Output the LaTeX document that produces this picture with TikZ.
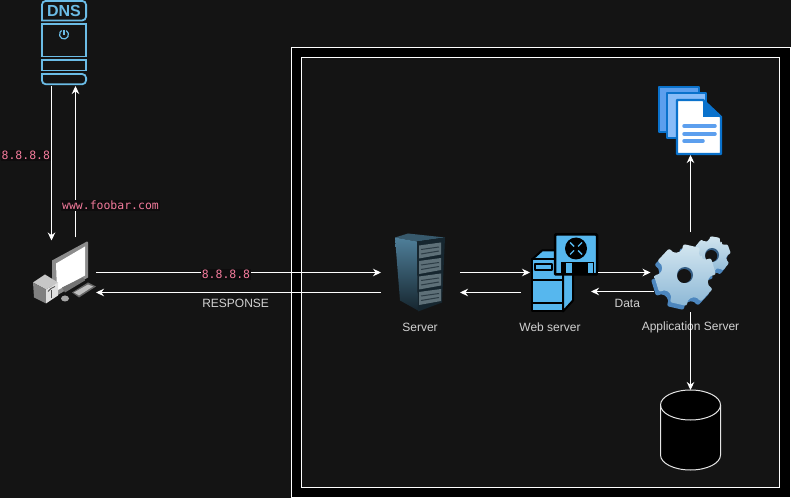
\documentclass[tikz,border=0pt]{standalone}
\usepackage{fontspec}
\setsansfont{Liberation Sans}
\newfontfamily\codefont{DejaVu Sans Mono}
\usetikzlibrary{calc, positioning}
\usetikzlibrary{arrows.meta}
\definecolor{canvas}{HTML}{141414}
\definecolor{dnsblue}{HTML}{6BBCE6}
\definecolor{webblue}{HTML}{56B7EE}
\definecolor{pinktext}{HTML}{F27A9B}
\definecolor{codeback}{HTML}{0E0C0D}
\definecolor{gearside}{HTML}{4C86BE}
\definecolor{gearlight}{HTML}{D3E6F0}
\definecolor{geardark}{HTML}{8DB8D6}
\definecolor{docline}{HTML}{0A72CC}
\definecolor{docfill}{HTML}{5C9FEE}
\definecolor{docpale}{HTML}{88BCF8}
\definecolor{rackdark}{HTML}{16262F}
\definecolor{racklight}{HTML}{4F7F9A}
\definecolor{rackpanel}{HTML}{5E7078}
\def\px{0.75pt}
\tikzset{
    frame/.style = {
        rectangle, inner sep=0pt, outer sep=0pt
    },
    flow/.style = {
        draw=white, line width=1*\px, -{Stealth[length=8*\px, width=7.5*\px]}
    },
    caption/.style = {
        font=\sffamily\fontsize{9}{11}\selectfont, text=white!82!black, inner sep=0pt
    },
    code/.style = {
        font=\codefont\fontsize{8.6}{10}\selectfont, text=pinktext, fill=codeback, inner sep=1*\px
    },
    pics/cogwheel/.style n args={4}{
        code = {
            \fill[gearside, shift={(-3,4)}, rounded corners=2*\px] (#4-30:#2)
                \foreach \a in {0,60,...,300}{
                    -- ({\a+#4-21}:#2) -- ({\a+#4-16}:#1) -- ({\a+#4+16}:#1) -- ({\a+#4+21}:#2) -- ({\a+#4+30}:#2)
                } -- cycle;
            \shade[top color=gearlight, bottom color=geardark, rounded corners=2*\px] (#4-30:#2)
                \foreach \a in {0,60,...,300}{
                    -- ({\a+#4-21}:#2) -- ({\a+#4-16}:#1) -- ({\a+#4+16}:#1) -- ({\a+#4+21}:#2) -- ({\a+#4+30}:#2)
                } -- cycle;
            \fill[gearside!70!black] (0,0) circle (#3);
            \fill[canvas] (-0.8,1) circle (#3-1);
    }},
    pics/dnsicon/.style = {
        code = {
            \node [frame, minimum width=46*\px, minimum height=85*\px](-frame) at (23,42.5) {};
            \begin{scope}[line width=1.8*\px]
                \draw[dnsblue, rounded corners=4*\px] (0.9,20.5) -- (0.9,0.9) -- (45.1,0.9) -- (45.1,20.5) [sharp corners] -- cycle;
                \draw[dnsblue] (0.9,24) rectangle (45.1,56.5);
                \draw[dnsblue] (0.9,60) rectangle (45.1,70.5);
                \draw[dnsblue] (0.9,74) [rounded corners=4*\px] -- (0.9,84.3) -- (45.1,84.3) -- (45.1,74) [sharp corners] -- cycle;
                \draw[dnsblue, line width=1.2*\px] (23,30) -- (23,35);
                \draw[dnsblue, line width=1.2*\px] (23,34.5) ++(-60:4.5) arc[start angle=-60, end angle=240, radius=4.5];
            \end{scope}
            \node[frame, font=\sffamily\bfseries\fontsize{12}{14}\selectfont, text=dnsblue] (-name) at (23,11) {DNS};
    }},
    pics/pcicon/.style = {
        code = {
            \node [frame, minimum width=63*\px, minimum height=64*\px](-frame) at (31.5,32) {};
            % monitor
            \fill[black!45] (19,20) -- (54,1) -- (55,2) -- (55,37) -- (22,56) -- (19,52) -- cycle;
            \fill[white] (23,23) -- (52,6) -- (52,35) -- (24,50) -- cycle;
            \fill[black!55] (29,47) -- (50,37) -- (52,40) -- (32,52) -- cycle;
            % keyboard
            \fill[black!60] (39,52) -- (55,42) -- (63,46) -- (46,57) -- cycle;
            \fill[black!25] (41,52) -- (55,44) -- (60,46) -- (46,55) -- cycle;
            \fill[black!35] (32,58) ellipse (4 and 3);
            % tower
            \fill[black!22] (0,42) -- (12,34) -- (25,42) -- (13,49) -- cycle;
            \fill[black!50] (0,42) -- (13,49) -- (13,63) -- (1,57) -- cycle;
            \fill[black!12] (13,49) -- (25,42) -- (25,55) -- (13,63) -- cycle;
            \draw[black!70, line width=0.8*\px] (18,58) -- (18,50);
            \draw[black!70, line width=0.8*\px] (15,51) -- (18,48) -- (22,46);
    }},
    pics/servericon/.style = {
        code = {
            \node [frame, minimum width=50*\px, minimum height=80*\px](-frame) at (25,40) {};
            \fill[racklight!70!black] (0,5) -- (13,1) -- (50,5) -- (22,9) -- cycle;
            \shade[top color=racklight, bottom color=rackdark] (0,5) -- (22,9) -- (23,78) -- (5,68) -- cycle;
            \fill[rackdark] (22,9) -- (50,5) -- (47,70) -- (23,79) -- cycle;
            \foreach \y in {0,1,2,3}{
                \fill[rackpanel] (24,{13+15.5*\y}) -- (46,{10+15.5*\y}) -- (46,{22+15.5*\y}) -- (24,{26+15.5*\y}) -- cycle;
                \draw[rackdark!70!rackpanel, line width=1*\px] (26,{17+15.5*\y}) -- (44,{14.5+15.5*\y}) (26,{21.5+15.5*\y}) -- (44,{18.5+15.5*\y});
            }
    }},
    pics/webicon/.style = {
        code = {
            \node [frame, minimum width=68*\px, minimum height=80*\px](-frame) at (34,40) {};
            \begin{scope}[line width=2*\px, line join=round]
                \filldraw[draw=black, fill=webblue] (2,27) -- (12,18) -- (43,18) -- (33,27) -- cycle;
                \filldraw[draw=black, fill=webblue] (33,27) -- (43,18) -- (43,68) -- (33,79) -- cycle;
                \filldraw[draw=black, fill=webblue] (2,27) rectangle (33,79);
                \filldraw[draw=black, fill=webblue] (5,32) rectangle (22,38);
                \draw[black] (2,48) -- (33,48);
                \draw[black] (2,71) -- (33,71);
            \end{scope}
            % floppy
            \filldraw[draw=black, fill=webblue, line width=2.5*\px, rounded corners=1*\px] (25,2) rectangle (67,42);
            \fill[black] (31,30) rectangle (64,43);
            \fill[webblue] (36,31) rectangle (42,41);
            \fill[webblue] (58,31) rectangle (63,41);
            \fill[black] (46,16) circle (11);
            \draw[webblue, line width=1.4*\px] (40,10) -- (44,14) (52,10) -- (48,14) (40,22) -- (44,18) (52,22) -- (48,18);
    }},
    pics/docicon/.style = {
        code = {
            \node [frame, minimum width=64*\px, minimum height=69*\px](-frame) at (32,34.5) {};
            \begin{scope}[line width=2.4*\px, line join=round]
                \filldraw[draw=docline, fill=docfill] (1,1) rectangle (41,46);
                \filldraw[draw=docline, fill=docpale] (9,7) rectangle (48,52);
                \filldraw[draw=docline, fill=white] (19,14) -- (45,14) -- (63,31) -- (63,68) -- (19,68) -- cycle;
            \end{scope}
            \fill[docline] (45,14) -- (63,31) -- (45,31) -- cycle;
            \draw[docfill, line width=3.5*\px, line cap=round] (26,40) -- (57,40) (26,48) -- (57,48) (26,55) -- (45,55);
    }},
    pics/dbicon/.style = {
        code = {
            \node [frame, minimum width=60*\px, minimum height=80*\px](-frame) at (30,40) {};
            \filldraw[draw=white!90!black, fill=black, line width=1*\px] (0,15) -- (0,65) arc[start angle=180, end angle=0, x radius=30, y radius=15]
                -- (60,15) arc[start angle=0, end angle=-180, x radius=30, y radius=15] -- cycle;
            \draw[white!90!black, line width=1*\px] (0,15) arc[start angle=180, end angle=0, x radius=30, y radius=15];
    }}
}
\begin{document}
\begin{tikzpicture}[x=\px, y=-\px]
    \useasboundingbox (0,0) rectangle (791,498);
    \fill[canvas] (0,0) rectangle (791,498);
    % Place the two borders
    \node[frame, draw=white, fill=black, line width=1*\px, minimum width=499*\px, minimum height=450*\px] (outerbox) at (540.5,272.5) {};
    \node[frame, draw=white, fill=canvas, line width=1*\px, minimum width=478*\px, minimum height=430*\px] (innerbox) at (540.5,272.5) {};
    % Place the icons
    \pic (dns) at (41,0) {dnsicon};
    \pic (pc) at (33,240.5) {pcicon};
    \pic (server) at (395,232.5) {servericon};
    \pic (web) at (530,232.5) {webicon};
    \pic (doc) at (658,86) {docicon};
    \pic (db) at (660.5,390) {dbicon};
    \node[frame, minimum width=80*\px, minimum height=74*\px] (app-frame) at (690.5,272.5) {};
    \pic (smallgear) at (712,255) {cogwheel={19}{14.5}{7}{-20}};
    \pic (biggear) at (685,275) {cogwheel={31}{24}{8}{-17}};
    % Captions
    \node[caption] (servername) at ($(server-frame.south)+(0,15)$) {Server};
    \node[caption] (webname) at ($(web-frame.south)+(-14,15)$) {Web server};
    \node[caption] (appname) at ($(app-frame.south)+(0,18)$) {Application Server};
    % Connectors
    \draw[flow] ($(dns-frame.south)+(-12.5,1)$) -- node[code, pos=.45, anchor=east] (dnsanswer) {8.8.8.8} ($(pc-frame.north)+(-13,0)$);
    \draw[flow] ($(pc-frame.north)+(11,-3)$) -- node[code, pos=.21, xshift=35*\px] (dnsquery) {www.foobar.com} ($(dns-frame.south)+(11.5,1)$);
    \draw[flow] (pc-frame.east) -- node[code, pos=.456, yshift=-2*\px] (request) {8.8.8.8} ($(server-frame.west)+(-14,0)$);
    \draw[flow] ($(server-frame.west)+(-14,20)$) -- node[caption, pos=.51, below=6*\px] (response) {RESPONSE} ($(pc-frame.east)+(0,20)$);
    \draw[flow] ($(server-frame.east)+(15,0)$) -- (web-frame.west);
    \draw[flow] ($(web-frame.west)+(-9,20)$) -- ($(server-frame.east)+(15,20)$);
    \draw[flow] (web-frame.east) -- (app-frame.west);
    \draw[flow] ($(app-frame.west)+(3,19)$) -- node[caption, pos=.42, below=7*\px] (data) {Data} ($(web-frame.east)+(-7,19)$);
    \draw[flow] ($(app-frame.north)+(0,-3)$) -- (doc-frame.south -| app-frame.north);
    \draw[flow] ($(app-frame.south)+(0,3)$) -- (db-frame.north -| app-frame.south);
\end{tikzpicture}
\end{document}
